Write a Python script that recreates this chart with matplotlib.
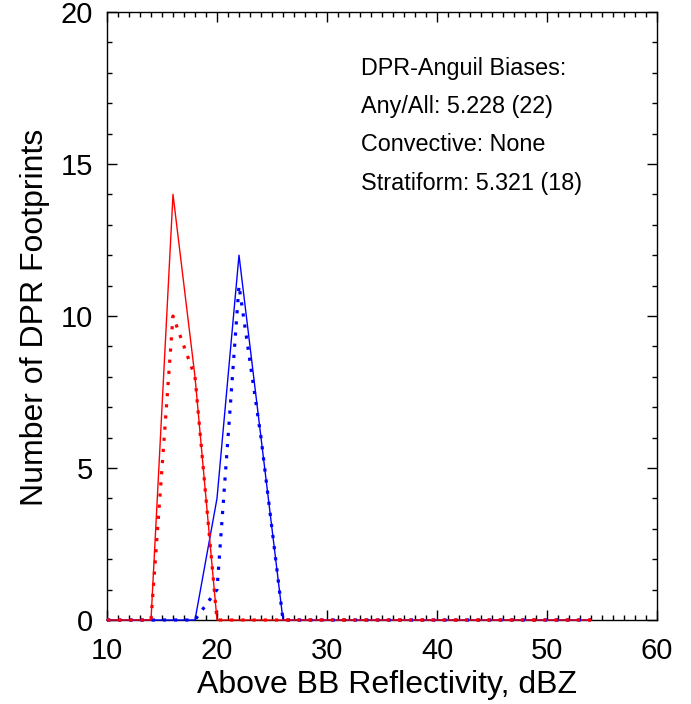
import matplotlib
matplotlib.use("Agg")
import matplotlib.pyplot as plt
from matplotlib.ticker import MultipleLocator
import numpy as np

plt.rcParams['font.family'] = ['Liberation Sans', 'DejaVu Sans']

# reflectivity bins (dBZ)
dbz = np.arange(10, 56, 2)

# counts per bin
gr_any = np.zeros(len(dbz))      # red solid
gr_strat = np.zeros(len(dbz))    # red dotted
dpr_any = np.zeros(len(dbz))     # blue solid
dpr_strat = np.zeros(len(dbz))   # blue dotted
gr_any[[3, 4]] = [14, 8]
gr_strat[[3, 4]] = [10, 8]
dpr_any[[5, 6, 7]] = [4, 12, 6]
dpr_strat[[5, 6, 7]] = [1, 11, 6]

bias_lines = ["DPR-Anguil Biases:",
              "Any/All: 5.228 (22)",
              "Convective: None",
              "Stratiform: 5.321 (18)"]

fig = plt.figure(figsize=(6.91, 7.04), dpi=100)
ax = fig.add_axes([107/691, 1 - 620/704, 550/691, 608/704])

dotted = (0, (1, 2.5))
ax.plot(dbz, dpr_any, color='#0000ff', lw=1.0, clip_on=False, zorder=3)
ax.plot(dbz, gr_any, color='#ff0000', lw=1.0, clip_on=False, zorder=3)
ax.plot(dbz, dpr_strat, color='#0000ff', lw=2.3, ls=dotted, clip_on=False, zorder=4)
ax.plot(dbz, gr_strat, color='#ff0000', lw=2.3, ls=dotted, clip_on=False, zorder=4)

ax.set_xlim(10, 60)
ax.set_ylim(0, 20)
ax.xaxis.set_major_locator(MultipleLocator(10))
ax.xaxis.set_minor_locator(MultipleLocator(1))
ax.yaxis.set_major_locator(MultipleLocator(5))
ax.yaxis.set_minor_locator(MultipleLocator(1))
ax.tick_params(which='both', direction='in', top=True, right=True, width=1.0)
ax.tick_params(which='major', length=7.2, labelsize=21)
ax.tick_params(axis='y', which='major', pad=10)
ax.tick_params(axis='x', which='major', pad=12)
ax.tick_params(which='minor', length=3.6)
for s in ax.spines.values():
    s.set_linewidth(1.0)

fig.canvas.draw()
ylabels = ax.get_yticklabels()
ylabels[0].set_va('bottom')
ylabels[-1].set_va('top')

for i, t in enumerate(bias_lines):
    ax.text(33.1, 18.15 - 1.26 * i, t, fontsize=16.8, ha='left', va='center')

fig.text(387/691, 1 - 685/704, "Above BB Reflectivity, dBZ", fontsize=23,
         ha='center', va='center')
fig.text(35/691, 1 - 317/704, "Number of DPR Footprints", fontsize=23,
         ha='center', va='center', rotation=90)

fig.savefig("out.png", dpi=100)
